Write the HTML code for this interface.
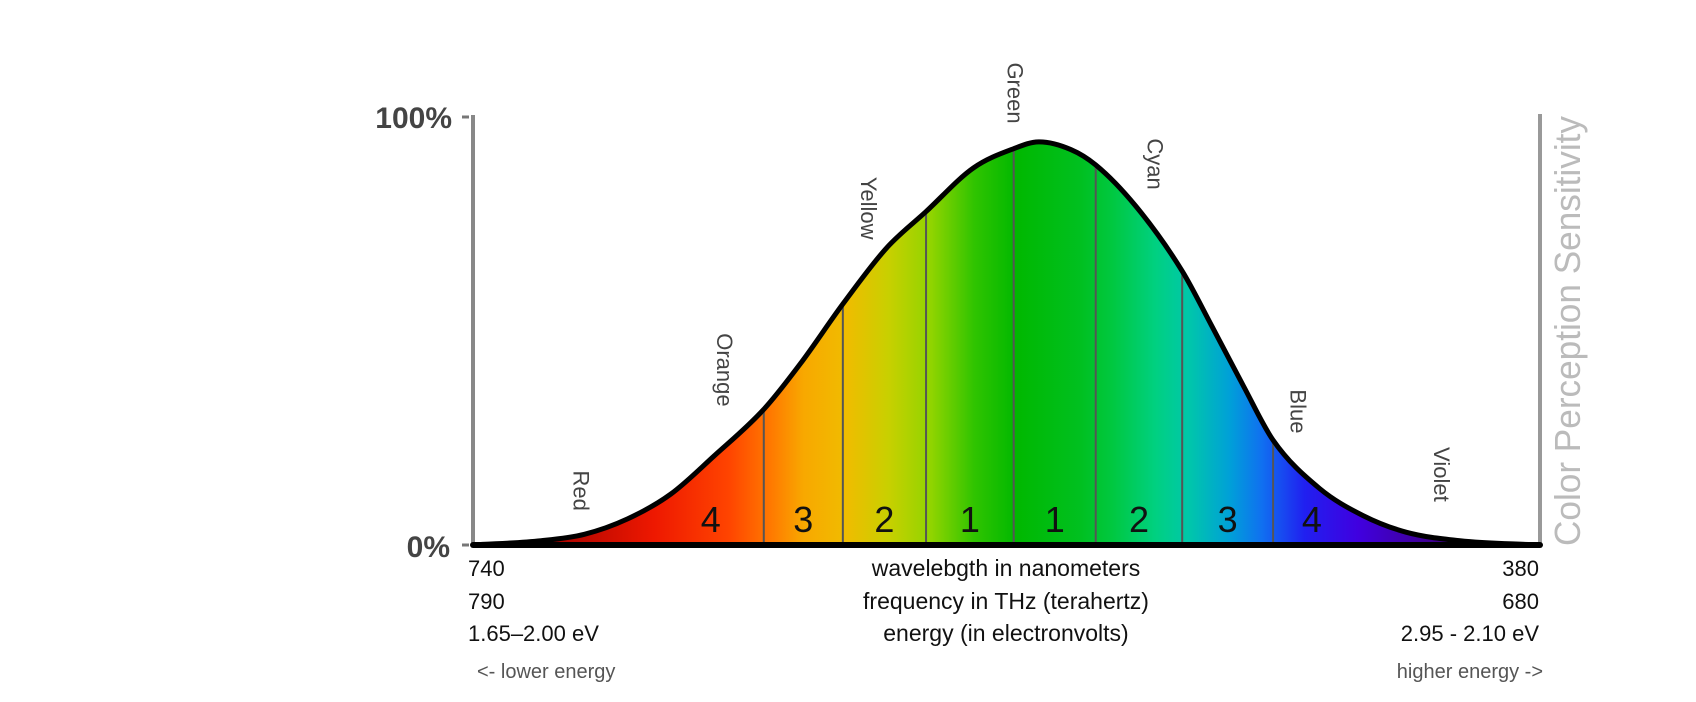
<!DOCTYPE html>
<html><head><meta charset="utf-8"><style>
html,body{margin:0;padding:0;background:#fff;}
svg{display:block;font-family:"Liberation Sans",Verdana,sans-serif;}
</style></head><body>
<svg id="chart" width="1696" height="702" viewBox="0 0 1696 702">
<defs>
<linearGradient id="spec" x1="473" x2="1539" y1="0" y2="0" gradientUnits="userSpaceOnUse">
<stop offset="0.06" stop-color="#a00000"/>
<stop offset="0.17" stop-color="#ee1800"/>
<stop offset="0.24" stop-color="#ff4400"/>
<stop offset="0.28" stop-color="#ff7a00"/>
<stop offset="0.31" stop-color="#f8a800"/>
<stop offset="0.35" stop-color="#f0bc00"/>
<stop offset="0.39" stop-color="#c8d000"/>
<stop offset="0.43" stop-color="#90d400"/>
<stop offset="0.47" stop-color="#30c400"/>
<stop offset="0.51" stop-color="#00b800"/>
<stop offset="0.57" stop-color="#00c020"/>
<stop offset="0.60" stop-color="#00c840"/>
<stop offset="0.64" stop-color="#00d080"/>
<stop offset="0.67" stop-color="#00c8a8"/>
<stop offset="0.71" stop-color="#00a0d8"/>
<stop offset="0.74" stop-color="#1070f0"/>
<stop offset="0.78" stop-color="#2020f0"/>
<stop offset="0.83" stop-color="#4000e0"/>
<stop offset="0.90" stop-color="#400090"/>
<stop offset="0.98" stop-color="#200030"/>
</linearGradient>
</defs>
<g id="plot"></g>
</svg>
<script>
const wavelengths=[740,717,702.4,687.8,673.2,658.6,641.8,629.4,615.1,600.2,587,571,557.4,549,538.1,529.7,516.2,500.5,490.6,479.7,469.8,454.1,439.5,424.9,406.7,380];
const sensitivity=[0,1.0,2.5,6.1,11.9,20.8,31.7,42.4,56.3,69.5,77.9,88.1,92.6,94.2,92.4,88.8,79.2,64.0,51.3,37.0,24.5,13.2,6.9,3.0,1.0,0];
const dividerWl=[641.8,615.1,587,557.4,529.7,500.5,469.8];
const bandLabels=["4","3","2","1","1","2","3","4"];
const colorNames=["Red","Orange","Yellow","Green","Cyan","Blue","Violet"];
const colorNameWl=[703.5,655,606.4,557,509.6,461.4,412.9];
const colorNameLevel=[12.7,40.9,78.7,105.6,89,31.2,16.5];

const X0=473,X1=1539,Y0=545,Y100=117;
const xs=w=>X0+(740-w)/(740-380)*(X1-X0);
const ys=v=>Y0-v/100*(Y0-Y100);
const NS="http://www.w3.org/2000/svg";
const g=document.getElementById('plot');
function mk(t,a){const e=document.createElementNS(NS,t);for(const k in a)e.setAttribute(k,a[k]);g.appendChild(e);return e;}

const pts=wavelengths.map((w,i)=>[xs(w),ys(sensitivity[i])]);
const n=pts.length;
const sl=[];
for(let i=0;i<n-1;i++)sl.push((pts[i+1][1]-pts[i][1])/(pts[i+1][0]-pts[i][0]));
const m=pts.map((p,i)=>i==0?sl[0]:(i==n-1?sl[n-2]:(sl[i-1]+sl[i])/2));
let d="M"+pts[0][0]+","+pts[0][1];
for(let i=0;i<n-1;i++){
 const h=pts[i+1][0]-pts[i][0];
 d+=` C${pts[i][0]+h/3},${pts[i][1]+m[i]*h/3} ${pts[i+1][0]-h/3},${pts[i+1][1]-m[i+1]*h/3} ${pts[i+1][0]},${pts[i+1][1]}`;
}
function curveY(w){for(let i=0;i<wavelengths.length-1;i++){if(w<=wavelengths[i]&&w>=wavelengths[i+1]){const t=(wavelengths[i]-w)/(wavelengths[i]-wavelengths[i+1]);return ys(sensitivity[i]+t*(sensitivity[i+1]-sensitivity[i]));}}return Y0;}

let e=mk('path',{d:d+` L${X1},${Y0} L${X0},${Y0} Z`,fill:'url(#spec)'});



dividerWl.forEach(w=>{
 const l=mk('line',{x1:xs(w),x2:xs(w),y1:curveY(w),y2:Y0,stroke:'#555','stroke-width':2});
 
 
});
const bounds=[740].concat(dividerWl).concat([380]);
bandLabels.forEach((b,i)=>{
 let xa=(i==0)?xs(677.6):xs(bounds[i]), xb=(i==7)?xs(443.6):xs(bounds[i+1]);
 const t=mk('text',{x:(xa+xb)/2,y:532,'font-size':36,'text-anchor':'middle',fill:'#111','font-family':'Liberation Sans Narrow, Liberation Sans, sans-serif'});
 t.textContent=b;
 
 
});

e=mk('path',{d:d,fill:'none',stroke:'#000','stroke-width':5,'stroke-linejoin':'round'});



colorNames.forEach((nm,i)=>{
 const x=xs(colorNameWl[i]),y=ys(colorNameLevel[i]);
 const t=mk('text',{x:x,y:y,'font-size':22,'text-anchor':'middle',fill:'#444',transform:`rotate(90 ${x} ${y})`,'dominant-baseline':'central'});
 t.textContent=nm;
 
 
});
</script>
<svg style="position:absolute;left:0;top:0" width="1696" height="702">
<line x1="473" y1="115" x2="473" y2="545" stroke="#888" stroke-width="4"/>
<line x1="1540" y1="114" x2="1540" y2="545" stroke="#999" stroke-width="4"/>
<line x1="462" y1="117" x2="469" y2="117" stroke="#777" stroke-width="3"/>
<line x1="462" y1="545" x2="469" y2="545" stroke="#777" stroke-width="3"/>
<line x1="473" y1="545" x2="1540" y2="545" stroke="#000" stroke-width="6" stroke-linecap="round"/>
<g font-family="Liberation Sans, Verdana, sans-serif">
<text x="452" y="128" font-size="30" font-weight="bold" fill="#444" text-anchor="end">100%</text>
<text x="450" y="557" font-size="30" font-weight="bold" fill="#444" text-anchor="end">0%</text>
<g font-size="22" fill="#111">
<text x="468" y="576">740</text>
<text x="468" y="609">790</text>
<text x="468" y="641">1.65–2.00 eV</text>
<text x="1006" y="576" text-anchor="middle" font-size="23">wavelebgth in nanometers</text>
<text x="1006" y="609" text-anchor="middle" font-size="23">frequency in THz (terahertz)</text>
<text x="1006" y="641" text-anchor="middle" font-size="23">energy (in electronvolts)</text>
<text x="1539" y="576" text-anchor="end">380</text>
<text x="1539" y="609" text-anchor="end">680</text>
<text x="1539" y="641" text-anchor="end">2.95 - 2.10 eV</text>
</g>
<text x="477" y="678" font-size="20" fill="#555">&lt;- lower energy</text>
<text x="1543" y="678" font-size="20" fill="#555" text-anchor="end">higher energy -&gt;</text>
<text transform="translate(1580 546) rotate(-90)" font-size="36" fill="#bbb" textLength="430" lengthAdjust="spacingAndGlyphs">Color Perception Sensitivity</text>
</g>
</svg>
</body></html>
